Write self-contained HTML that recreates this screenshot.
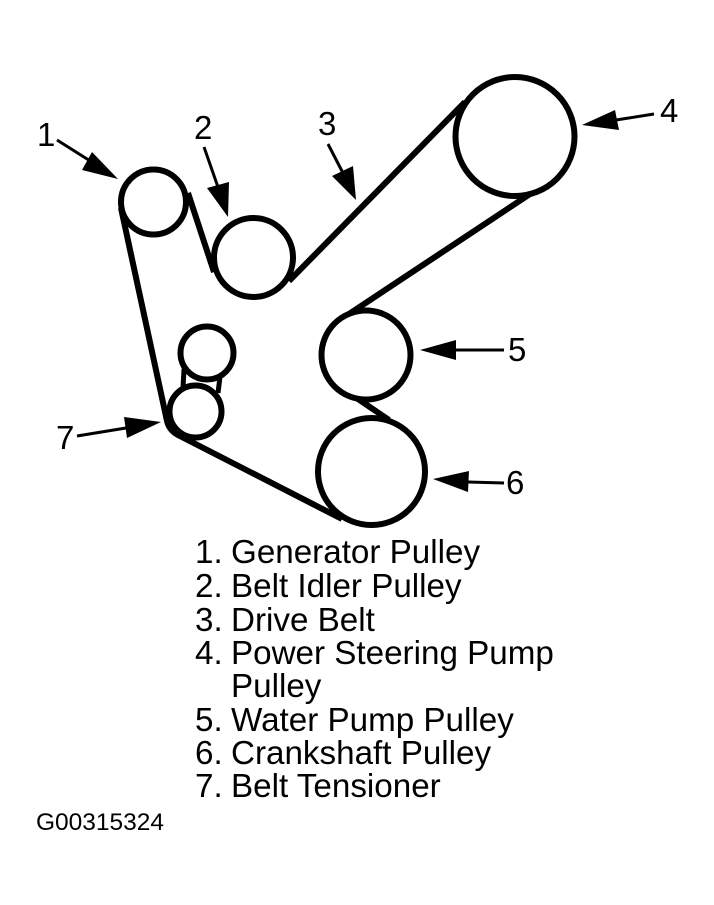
<!DOCTYPE html>
<html>
<head>
<meta charset="utf-8">
<style>
html,body{margin:0;padding:0;background:#fff;width:714px;height:905px;overflow:hidden}
svg{display:block}
text{font-family:"Liberation Sans",Arial,sans-serif;fill:#000}
</style>
</head>
<body>
<svg width="714" height="905" viewBox="0 0 714 905" xmlns="http://www.w3.org/2000/svg">
<g fill="none" stroke="#000" stroke-width="6">
<circle cx="153.5" cy="202" r="32.5"/>
<circle cx="253.5" cy="257.5" r="39.5"/>
<circle cx="515" cy="136.5" r="59.5"/>
<circle cx="366" cy="355" r="44.5"/>
<circle cx="371.5" cy="471.5" r="53.5"/>
<circle cx="207" cy="353" r="26.5"/>
<circle cx="195.5" cy="411.5" r="26"/>
</g>
<g fill="none" stroke="#000" stroke-width="6" stroke-linecap="butt">
<path d="M121 208L167 421Q169 430 178 435L342 519"/>
<path d="M188 193L214 272"/>
<path d="M289 281L465 102"/>
<path d="M530 194L349 314"/>
<path d="M358 399L389 420"/>
</g>
<g fill="none" stroke="#000" stroke-width="5">
<path d="M184 369L183 388"/>
<path d="M220 377L218 393"/>
</g>
<g stroke="#000" stroke-width="3" fill="none">
<path d="M57 140L95 164"/>
<path d="M204 147L219 190"/>
<path d="M328 144L344 175"/>
<path d="M654 114L616 120"/>
<path d="M504 350L456 350"/>
<path d="M504 483L468 482"/>
<path d="M77 436L126 428"/>
</g>
<g fill="#000">
<polygon points="118,179 92,152 82,170"/>
<polygon points="228,217 207,188 229,182"/>
<polygon points="356,200 332,176 353,166"/>
<polygon points="582,125 615,110 619,130"/>
<polygon points="420,350 456,340 456,360"/>
<polygon points="433,479 469,471 468,492"/>
<polygon points="161,422 124,417 127,438"/>
</g>
<g font-size="33">
<text x="37" y="146">1</text>
<text x="194" y="139">2</text>
<text x="318" y="135">3</text>
<text x="660" y="122">4</text>
<text x="508" y="361">5</text>
<text x="506" y="494">6</text>
<text x="56" y="449">7</text>
</g>
<g font-size="33.2">
<text x="195" y="563">1.</text><text x="231" y="563">Generator Pulley</text>
<text x="195" y="597">2.</text><text x="231" y="597">Belt Idler Pulley</text>
<text x="195" y="631">3.</text><text x="231" y="631">Drive Belt</text>
<text x="195" y="664">4.</text><text x="231" y="664">Power Steering Pump</text>
<text x="231" y="697">Pulley</text>
<text x="195" y="731">5.</text><text x="231" y="731">Water Pump Pulley</text>
<text x="195" y="764">6.</text><text x="231" y="764">Crankshaft Pulley</text>
<text x="195" y="797">7.</text><text x="231" y="797">Belt Tensioner</text>
</g>
<text x="36" y="830" font-size="24.5">G00315324</text>
</svg>
</body>
</html>
